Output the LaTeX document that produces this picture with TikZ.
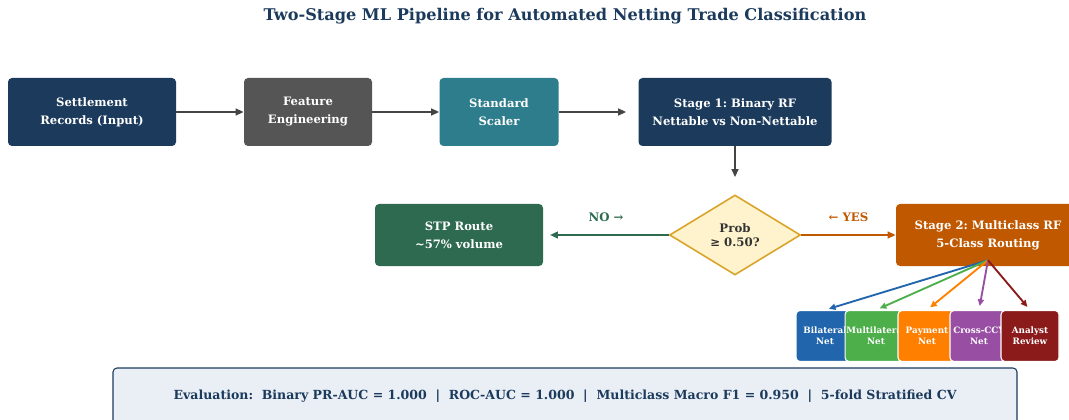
\documentclass[tikz,border=0pt]{standalone}
\usepackage{fontspec}
\setmainfont{DejaVu Serif}
\usetikzlibrary{arrows.meta,shapes.geometric,calc}
\frenchspacing

\definecolor{navy}{HTML}{1B3A5C}
\definecolor{slate}{HTML}{555555}
\definecolor{teal}{HTML}{2E7D8C}
\definecolor{stpgreen}{HTML}{2D6A4F}
\definecolor{burnt}{HTML}{C05800}
\definecolor{gold}{HTML}{D9A42B}
\definecolor{cream}{HTML}{FFF3CD}
\definecolor{evalbg}{HTML}{EAEFF6}
\definecolor{arrgray}{HTML}{444444}
\definecolor{cbil}{HTML}{2166AC}
\definecolor{cmul}{HTML}{4DAF4A}
\definecolor{cpay}{HTML}{FF7F00}
\definecolor{ccross}{HTML}{984EA3}
\definecolor{canalyst}{HTML}{8B1A1A}

\begin{document}
\begin{tikzpicture}[
    x=0.75pt, y=-0.75pt,
    >={Triangle[length=6pt,width=5pt]},
    font=\bfseries\fontsize{8.7}{13.5}\selectfont,
    box/.style={rounded corners=3pt, text=white, align=center,
                minimum height=51pt, inner sep=2pt},
    midbox/.style={box, minimum height=46.5pt},
    classbox/.style={rounded corners=3pt, text=white, align=center,
                     draw=white, line width=0.8pt, minimum width=43.5pt,
                     minimum height=38.25pt, inner sep=1pt,
                     font=\bfseries\fontsize{6.6}{8.3}\selectfont},
    arrow/.style={->, line width=1.5pt, draw=arrgray},
    fan/.style={->, line width=1.4pt, shorten >=3pt,
                >={Triangle[length=5pt,width=4.5pt]}},
    tag/.style={font=\bfseries\fontsize{8.8}{10}\selectfont},
]
\clip (0,0) rectangle (1069,420);

% === Title ===
\node[text=navy, font=\bfseries\fontsize{12.1}{14}\selectfont] (title) at (565,16)
     {Two-Stage ML Pipeline for Automated Netting Trade Classification};

% === Top row: preprocessing + Stage 1 ===
\node[box, fill=navy, minimum width=126pt] (records) at (92,112)
     {Settlement\\Records (Input)};
\node[box, fill=slate, minimum width=96pt] (features) at (308,112)
     {Feature\\Engineering};
\node[box, fill=teal, minimum width=89.25pt] (scaler) at (499,112)
     {Standard\\Scaler};
\node[box, fill=navy, minimum width=144.75pt] (stageone) at (735,112)
     {Stage 1: Binary RF\\Nettable vs Non-Nettable};

% === Middle row: decision ===
\node[diamond, draw=gold, fill=cream, line width=1.2pt, inner sep=0pt,
      minimum width=98.25pt, minimum height=60pt, align=center,
      text=black!80, font=\bfseries\fontsize{8.8}{10}\selectfont]
      (decision) at (735,235) {Prob\\≥ 0.50?};
\node[midbox, fill=stpgreen, minimum width=126pt] (stp) at (459,235)
     {STP Route\\\textasciitilde57\% volume};
\node[midbox, fill=burnt, minimum width=138pt] (stagetwo) at (988,235)
     {Stage 2: Multiclass RF\\5-Class Routing};

% === Bottom row: routing classes ===
\node[classbox, fill=cbil] (bilateral) at (825,336) {Bilateral\\Net};
\node[classbox, fill=cmul] (multilateral) at (876,336) {Multilateral\\Net};
\node[classbox, fill=cpay] (payment) at (927,336) {Payment\\Net};
\node[classbox, fill=ccross] (crossccy) at (979,336) {Cross-CCY\\Net};
\node[classbox, fill=canalyst] (analyst) at (1030,336) {Analyst\\Review};

% === Evaluation banner ===
\node[draw=navy, fill=evalbg, rounded corners=3pt, line width=0.8pt,
      minimum width=678pt, minimum height=42pt, text=navy,
      font=\bfseries\fontsize{9.4}{11}\selectfont] (eval) at (565,396)
     {Evaluation:\ \ Binary PR-AUC = 1.000\ \ |\ \ ROC-AUC = 1.000\ \ |\ \ Multiclass Macro F1 = 0.950\ \ |\ \ 5-fold Stratified CV};

% === Arrows: pipeline ===
\draw[arrow] (records) -- (features);
\draw[arrow] (features) -- (scaler);
\draw[arrow, shorten >=9pt] (scaler) -- (stageone);
\draw[arrow, shorten >=12.75pt] (stageone) -- (decision);

% === Arrows: decision ===
\draw[arrow, draw=stpgreen, shorten >=5pt] (decision) --
     node[tag, text=stpgreen, above=6pt] {NO →} (stp);
\draw[arrow, draw=burnt] (decision) --
     node[tag, text=burnt, above=6pt] {← YES} (stagetwo);

% === Arrows: Stage 2 fan-out ===
\coordinate (fanout) at ($(stagetwo.south)+(0,-6)$);
\draw[fan, draw=cbil] (fanout) -- (bilateral.north);
\draw[fan, draw=cmul] (fanout) -- (multilateral.north);
\draw[fan, draw=cpay] (fanout) -- (payment.north);
\draw[fan, draw=ccross] (fanout) -- (crossccy.north);
\draw[fan, draw=canalyst] (fanout) -- (analyst.north);

\end{tikzpicture}
\end{document}
